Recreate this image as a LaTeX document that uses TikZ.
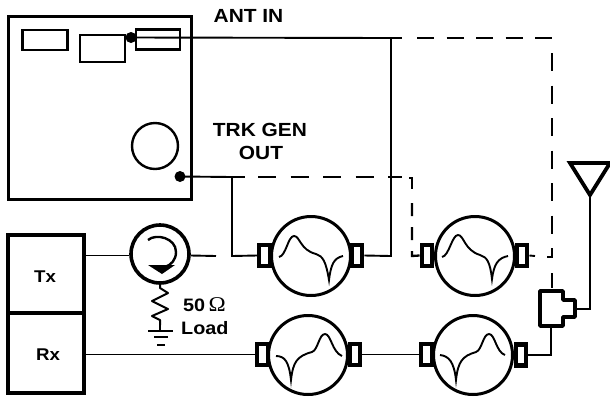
\documentclass[tikz,border=0pt]{standalone}
\usepackage{fontspec}
\setmainfont{Liberation Sans}
\newfontfamily\omegafont{Liberation Serif}
\tikzset{
  wire/.style={line width=1.9pt},
  dashwire/.style={line width=2.3pt,dash pattern=on 18pt off 14.5pt},
  dashtop/.style={line width=2.3pt,dash pattern=on 17pt off 12.5pt},
  dashshort/.style={line width=2.3pt,dash pattern=on 13pt off 11pt},
  heavybox/.style={draw,line width=3.8pt,inner sep=0pt},
  smallbox/.style={draw,line width=2.8pt,inner sep=0pt},
  scopecircle/.style={draw,circle,line width=3pt,minimum size=79pt,inner sep=0pt,fill=white},
  port/.style={draw,line width=4.4pt,inner sep=0pt,minimum width=10.5pt,minimum height=21pt,fill=white},
  dot/.style={circle,fill=black,minimum size=11pt,inner sep=0pt},
  trace/.style={line width=1.9pt},
  lab/.style={font=\bfseries\fontsize{19}{22}\selectfont,inner sep=0pt,align=center,xscale=1.1},
  lab2/.style={font=\bfseries\fontsize{18}{20}\selectfont,inner sep=0pt,xscale=1.1},
  lab3/.style={font=\bfseries\fontsize{17}{20}\selectfont,inner sep=0pt,xscale=1.1}
}
\begin{document}
\begin{tikzpicture}[x=1pt,y=-1pt]
\useasboundingbox (0,0) rectangle (610,400);
% main unit
\node[heavybox,minimum width=183pt,minimum height=183pt] (unit) at (100,108) {};
\node[smallbox,minimum width=45pt,minimum height=20pt] (b1) at (45,40) {};
\node[smallbox,minimum width=45pt,minimum height=27pt] (b2) at (102.5,48.5) {};
\node[smallbox,minimum width=44pt,minimum height=20pt] (b3) at (158,39.5) {};
\node[draw,circle,line width=2.4pt,minimum size=46pt,inner sep=0pt] (knob) at (155,146) {};
\node[dot] (antdot) at (131,37.5) {};
\node[dot] (trkdot) at (180,176.5) {};
% tx rx
\node[heavybox,minimum width=76pt,minimum height=78pt] (tx) at (46,274) {};
\node[heavybox,minimum width=76pt,minimum height=80pt] (rx) at (46,353) {};
\node[lab3] (txlab) at (45,277) {Tx};
\node[lab3] (rxlab) at (48,355) {Rx};
% circulator
\node[draw,circle,line width=3.6pt,minimum size=58pt,inner sep=0pt] (circ) at (160,254) {};
\coordinate (circout) at (216,256);
\draw[line width=2.4pt] (148,240) .. controls (156,233) and (176,238) .. (176,252) .. controls (176,260) and (171,265) .. (165,267);
\fill (148,265) -- (175,265) -- (162,274) -- cycle;
% scopes
\node[port] (s1l) at (264.5,255.5) {};
\node[port] (s1r) at (357,255.5) {};
\node[port] (s2l) at (427,255.5) {};
\node[port] (s2r) at (522,255.5) {};
\node[port] (s3l) at (262.5,354.5) {};
\node[port] (s3r) at (355,354.5) {};
\node[port] (s4l) at (426.5,354.5) {};
\node[port] (s4r) at (521,355) {};
\node[scopecircle] (s1) at (311,256) {};
\node[scopecircle] (s2) at (475,256) {};
\node[scopecircle] (s3) at (308,355) {};
\node[scopecircle] (s4) at (473,355) {};
% traces
\draw[trace] (279,257) .. controls (286,256) and (288,236) .. (294,236) .. controls (300,236) and (300,250) .. (316,254) .. controls (323,256) and (326,262) .. (329,280) .. controls (331,264) and (334,258) .. (343,256);
\draw[trace] (442,257) .. controls (449,256) and (452,235) .. (458,235) .. controls (464,235) and (464,250) .. (480,255) .. controls (487,257) and (490,262) .. (492,279) .. controls (494,264) and (498,258) .. (508,256);
\draw[trace] (276,356) .. controls (285,356) and (289,362) .. (291,380) .. controls (293,362) and (297,356) .. (312,352) .. controls (318,350) and (319,334) .. (325,334) .. controls (331,334) and (332,352) .. (342,356);
\draw[trace] (440,355) .. controls (449,356) and (454,362) .. (456,380) .. controls (458,362) and (462,356) .. (476,352) .. controls (482,350) and (483,334) .. (489,334) .. controls (495,334) and (496,352) .. (505,355);
% hybrid
\coordinate (hybtop) at (552,288);
\coordinate (hybbot) at (551,327);
\coordinate (hybout) at (575,309);
\draw[line width=3.8pt,fill=white,line join=round] (540,291) -- (563,291) -- (563,300) -- (575,300) -- (575,317) -- (563,317) -- (563,326) -- (540,326) -- cycle;
% antenna
\coordinate (antapex) at (590,196);
\draw[line width=3.8pt,line join=miter] (570,163) -- (610,163) -- (590,195) -- cycle;
% resistor
\coordinate (rbot) at (160,325);
\draw[line width=2pt,line join=round] (circ.south) -- (160,288) -- (168,293) -- (152,301) -- (168,309) -- (152,316) -- (160,320) -- (rbot);
\coordinate (g1l) at (148,331); \coordinate (g1r) at (173,331);
\draw[wire] (rbot) -- (160,331);
\draw[line width=2.2pt] (g1l) -- (g1r);
\draw[line width=2.2pt] (154,337) -- (168,337);
\draw[line width=2.6pt] (157,345) -- (165,345);
% connectors
\coordinate (antj) at (391,38);
\coordinate (trkj) at (232,177);
\coordinate (cornerA) at (552,38);
\draw[wire] (antdot.center) -- (antj) -- (391,256) -- (s1r.east);
\draw[wire] (antj) -- (402,38);
\draw[wire] (trkdot.center) -- (trkj) -- (232,256) -- (s1l.west);
\draw[wire] (trkj) -- (245,177);
\draw[dashwire] (258,177) -- (402,177);
\draw[wire] (409,178) -- (412,178) -- (412,189);
\draw[dashshort] (412,203) -- (412,256) -- (s2l.west);
\draw[dashtop] (417,38) -- (cornerA) -- (552,43);
\draw[dashwire] (552,53) -- (552,257) -- (547,257);
\draw[wire] (s2r.east) -- (535,256);
\draw[dashwire] (552,273) -- (hybtop);
\draw[wire] (tx.east |- s1l.west) -- (circ.west |- s1l.west);
\draw[wire] (circ.east |- s1l.west) -- (circout);
\draw[wire] (rx.east |- s3l.west) -- (s3l.west);
\draw[wire] (s3r.east) -- (s4l.west);
\draw[wire] (s4r.east) -- (551,355) -- (hybbot);
\draw[wire] (hybout) -- (590,309) -- (antapex);
% labels
\node[lab] (antlab) at (248.5,15.5) {ANT IN};
\node[lab] (trklab1) at (260,129.5) {TRK GEN};
\node[lab] (trklab2) at (261,153) {OUT};
\node[lab2,anchor=west] (ohm) at (183,305) {50\,{\omegafont\mdseries\fontsize{21}{22}\selectfont Ω}};
\node[lab2,anchor=west] (load) at (181,328.5) {Load};
\end{tikzpicture}
\end{document}
